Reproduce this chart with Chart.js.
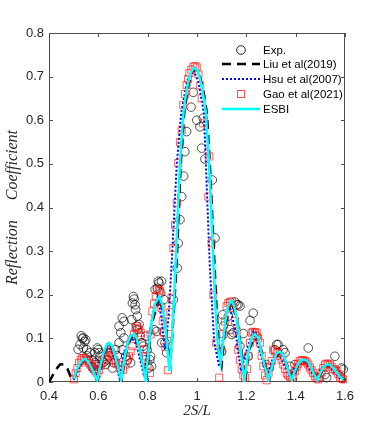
<!DOCTYPE html>
<html>
<head>
<meta charset="utf-8">
<script src="https://cdn.jsdelivr.net/npm/chart.js@4.4.0/dist/chart.umd.min.js"></script>
<style>
    body { margin: 0; background: #fff; }
    canvas { display: block; }
</style>
</head>
<body>
<canvas id="kayra" width="382" height="430"></canvas>
<script>
// tick labels
const xTicks = [0.4, 0.6, 0.8, 1.0, 1.2, 1.4, 1.6];
const yTicks = [0, 0.1, 0.2, 0.3, 0.4, 0.5, 0.6, 0.7, 0.8];

// Exp. (circles)
const expX = [0.518,0.526,0.531,0.535,0.539,0.539,0.545,0.549,0.553,0.555,
    0.56,0.566,0.573,0.575,0.582,0.586,0.586,0.589,0.596,0.6,
    0.6,0.603,0.607,0.615,0.622,0.63,0.636,0.643,0.65,0.657,
    0.663,0.67,0.677,0.684,0.684,0.691,0.697,0.697,0.704,0.704,
    0.711,0.718,0.731,0.735,0.738,0.742,0.745,0.749,0.751,0.755,
    0.758,0.758,0.765,0.769,0.775,0.782,0.789,0.792,0.798,0.805,
    0.809,0.812,0.816,0.826,0.83,0.837,0.839,0.843,0.846,0.853,
    0.856,0.857,0.863,0.866,0.87,0.877,0.904,0.92,0.924,0.931,
    0.938,0.946,0.951,0.958,0.976,0.985,0.999,1.012,1.025,1.019,
    1.032,1.062,1.073,1.104,1.107,1.1,1.127,1.134,1.141,1.147,
    1.154,1.161,1.167,1.174,1.174,1.188,1.208,1.215,1.228,1.242,
    1.282,1.316,1.323,1.329,1.349,1.357,1.377,1.397,1.451,1.519,
    1.526,1.559,1.586,1.593];
const expY = [0.075,0.086,0.106,0.1,0.101,0.078,0.093,0.097,0.074,0.06,
    0.05,0.067,0.051,0.035,0.029,0.067,0.044,0.04,0.078,0.074,
    0.036,0.067,0.059,0.05,0.045,0.04,0.051,0.06,0.067,0.032,
    0.044,0.074,0.06,0.09,0.128,0.113,0.147,0.074,0.139,0.101,
    0.059,0.05,0.044,0.143,0.181,0.196,0.19,0.177,0.166,0.128,
    0.151,0.12,0.132,0.105,0.09,0.082,0.051,0.105,0.074,0.032,
    0.051,0.059,0.036,0.12,0.212,0.116,0.215,0.231,0.227,0.204,
    0.231,0.09,0.116,0.189,0.09,0.067,0.189,0.261,0.318,0.372,
    0.425,0.472,0.528,0.574,0.63,0.664,0.6,0.585,0.605,0.536,
    0.511,0.463,0.33,0.154,0.128,0.07,0.151,0.12,0.109,0.113,
    0.183,0.177,0.177,0.174,0.082,0.111,0.059,0.141,0.158,0.105,
    0.04,0.074,0.086,0.086,0.074,0.067,0.036,0.04,0.078,0.017,
    0.01,0.059,0.032,0.029];

// Liu et al(2019), dashed
const liuX = [0.40,0.415,0.43,0.445,0.46,0.475,0.488,0.498,0.51,0.525,0.548,0.572,0.598,
    0.62,0.645,0.668,0.694,0.716,0.744,0.768,0.794,0.815,0.848,0.872,0.89,
    0.9,0.91,0.918,0.934,0.948,0.965,0.98,0.994,1.01,1.025,1.04,1.052,1.07,1.08,1.09,1.1,
    1.115,1.14,1.165,1.195,1.212,1.238,1.262,1.292,1.312,1.338,1.363,1.388,
    1.41,1.44,1.466,1.49,1.512,1.54,1.566,1.595];
const liuY = [0.0,0.015,0.03,0.04,0.041,0.03,0.012,0.003,0.025,0.042,0.053,0.033,0.004,
    0.063,0.09,0.062,0.004,0.083,0.11,0.073,0.004,0.13,0.196,0.13,0.035,
    0.11,0.2,0.28,0.5,0.617,0.68,0.71,0.718,0.705,0.67,0.617,0.5,0.28,0.16,0.07,0.04,
    0.13,0.186,0.135,0.005,0.075,0.11,0.07,0.004,0.048,0.07,0.042,0.004,
    0.04,0.051,0.03,0.004,0.032,0.04,0.022,0.005];

// Hsu et al(2007), dotted
const hsuX = [0.50,0.52,0.54,0.565,0.59,0.61,0.635,0.66,0.686,0.705,0.73,0.755,0.786,
    0.81,0.826,0.84,0.855,0.87,0.885,0.898,0.918,0.936,0.96,0.985,1.005,1.028,1.036,
    1.052,1.07,1.09,1.11,1.13,1.155,1.178,1.205,1.228,1.255,1.283,1.305,1.328,1.352,
    1.378,1.402,1.43,1.455,1.48,1.502,1.528,1.553,1.582];
const hsuY = [0.005,0.03,0.05,0.04,0.008,0.05,0.085,0.065,0.008,0.07,0.105,0.085,0.012,
    0.12,0.173,0.195,0.15,0.075,0.15,0.28,0.5,0.617,0.69,0.715,0.69,0.617,0.5,
    0.263,0.09,0.035,0.12,0.18,0.12,0.025,0.08,0.115,0.07,0.012,0.05,0.068,0.04,
    0.01,0.04,0.05,0.03,0.008,0.03,0.04,0.025,0.006];

// Gao et al(2021), squares
const gaoX = [0.501,0.508,0.515,0.522,0.529,0.535,0.542,0.549,0.555,0.562,
    0.568,0.575,0.582,0.589,0.596,0.603,0.61,0.617,0.624,0.63,
    0.637,0.643,0.65,0.657,0.665,0.672,0.68,0.69,0.70,0.71,
    0.717,0.724,0.731,0.738,0.745,0.751,0.758,0.765,0.772,0.778,
    0.785,0.792,0.80,0.809,0.812,0.819,0.826,0.833,0.839,0.846,
    0.85,0.856,0.861,0.866,0.872,0.882,0.887,0.892,0.897,0.904,
    0.911,0.918,0.924,0.931,0.938,0.944,0.951,0.958,0.964,0.969,
    0.977,0.985,0.993,0.999,1.006,1.013,1.019,1.025,1.046,1.05,
    1.059,1.066,1.078,1.09,1.10,1.107,1.113,1.12,1.127,1.134,
    1.141,1.147,1.154,1.161,1.167,1.174,1.181,1.188,1.195,1.202,
    1.208,1.215,1.222,1.228,1.235,1.242,1.248,1.255,1.262,1.269,
    1.276,1.282,1.29,1.296,1.303,1.309,1.316,1.323,1.33,1.336,
    1.343,1.35,1.357,1.364,1.37,1.377,1.384,1.39,1.397,1.404,
    1.41,1.417,1.424,1.431,1.438,1.444,1.451,1.458,1.464,1.471,
    1.478,1.485,1.492,1.499,1.505,1.512,1.519,1.526,1.532,1.539,
    1.546,1.552,1.559,1.566,1.573,1.58,1.586,1.592];
const gaoY = [0.006,0.02,0.032,0.044,0.051,0.055,0.055,0.052,0.048,0.044,
    0.04,0.035,0.03,0.025,0.02,0.028,0.038,0.046,0.052,0.059,
    0.066,0.074,0.07,0.062,0.051,0.044,0.04,0.03,0.028,0.04,
    0.05,0.059,0.07,0.082,0.11,0.124,0.128,0.12,0.113,0.09,
    0.075,0.059,0.04,0.021,0.109,0.162,0.18,0.196,0.212,0.21,
    0.208,0.17,0.14,0.113,0.08,0.027,0.11,0.16,0.193,0.307,
    0.36,0.41,0.502,0.55,0.578,0.635,0.66,0.681,0.695,0.708,
    0.716,0.723,0.724,0.721,0.705,0.68,0.65,0.593,0.425,0.517,
    0.318,0.2,0.09,0.01,0.07,0.11,0.139,0.174,0.181,0.183,
    0.185,0.17,0.14,0.116,0.074,0.05,0.029,0.015,0.01,0.03,
    0.06,0.09,0.113,0.115,0.114,0.113,0.1,0.09,0.06,0.036,
    0.015,0.004,0.02,0.035,0.048,0.074,0.07,0.066,0.068,0.06,
    0.051,0.04,0.03,0.02,0.015,0.012,0.01,0.015,0.025,0.035,
    0.042,0.048,0.05,0.05,0.048,0.045,0.04,0.033,0.027,0.021,
    0.013,0.008,0.006,0.012,0.022,0.032,0.04,0.042,0.042,0.04,
    0.035,0.03,0.028,0.025,0.018,0.01,0.008,0.006];

// ESBI, solid cyan
const esbiX = [0.499,0.51,0.522,0.535,0.546,0.558,0.57,0.583,0.596,
    0.607,0.62,0.632,0.643,0.655,0.667,0.68,0.692,
    0.703,0.716,0.73,0.742,0.755,0.768,0.78,0.792,
    0.803,0.815,0.83,0.847,0.86,0.872,0.88,0.888,
    0.895,0.905,0.914,0.923,0.931,0.94,0.945,0.95,0.96,0.97,0.98,0.99,
    1.0,1.01,1.02,1.03,1.036,1.04,1.049,1.057,1.066,1.075,1.085,1.096,
    1.105,1.115,1.125,1.138,1.15,1.163,1.175,1.185,1.192,
    1.2,1.21,1.222,1.235,1.248,1.26,1.275,1.29,
    1.3,1.31,1.322,1.336,1.35,1.362,1.373,1.385,
    1.395,1.408,1.422,1.438,1.452,1.465,1.477,1.488,
    1.498,1.51,1.525,1.539,1.552,1.565,1.58,1.593];
const esbiY = [0.007,0.025,0.04,0.05,0.053,0.047,0.035,0.018,0.004,
    0.035,0.065,0.083,0.09,0.083,0.063,0.033,0.004,
    0.045,0.085,0.105,0.11,0.1,0.072,0.04,0.004,
    0.07,0.135,0.18,0.196,0.175,0.125,0.075,0.025,
    0.07,0.17,0.28,0.40,0.50,0.58,0.617,0.64,0.675,0.70,0.715,0.72,
    0.715,0.70,0.675,0.64,0.617,0.58,0.5,0.4,0.28,0.17,0.08,0.044,
    0.09,0.14,0.172,0.187,0.175,0.14,0.085,0.035,0.005,
    0.035,0.075,0.103,0.11,0.1,0.07,0.035,0.004,
    0.025,0.048,0.065,0.07,0.062,0.042,0.02,0.004,
    0.022,0.04,0.05,0.051,0.045,0.03,0.015,0.004,
    0.018,0.032,0.04,0.04,0.032,0.022,0.012,0.006];

const AXIS_COLOR = '#4d4d4d';
const TEXT_COLOR = '#262626';

function pisteet( xs, ys )
{
    return xs.map( ( v, i ) => ({ x: v, y: ys[ i ] }) );
}

function lukuTeksti( value )
{
    return ( Math.round( value * 10 ) / 10 ).toString();
}

// box + inward ticks, matlab style
const kehysPlugin = {
    id: 'kehys',
    beforeDatasetsDraw( chart )
    {
        const { ctx, chartArea: a, scales } = chart;
        const tl = 4;
        ctx.save();
        ctx.strokeStyle = AXIS_COLOR;
        ctx.lineWidth = 1;
        ctx.beginPath();
        ctx.rect( a.left + 0.5, a.top + 0.5, a.right - a.left - 1, a.bottom - a.top - 1 );
        xTicks.forEach( v =>
        {
            const px = Math.round( scales.x.getPixelForValue( v ) ) + 0.5;
            ctx.moveTo( px, a.bottom );
            ctx.lineTo( px, a.bottom - tl );
            ctx.moveTo( px, a.top );
            ctx.lineTo( px, a.top + tl );
        } );
        yTicks.forEach( v =>
        {
            const py = Math.round( scales.y.getPixelForValue( v ) ) + 0.5;
            ctx.moveTo( a.left, py );
            ctx.lineTo( a.left + tl, py );
            ctx.moveTo( a.right, py );
            ctx.lineTo( a.right - tl, py );
        } );
        ctx.stroke();
        ctx.restore();
    }
};

// legend inside the axes, no box
const selitePlugin = {
    id: 'selite',
    afterDatasetsDraw( chart )
    {
        const { ctx, chartArea: a } = chart;
        const x0 = a.right - 123, x1 = a.right - 85, tx = a.right - 82;
        const rivit = [ 17, 31, 46, 61, 76 ];
        const mx = ( x0 + x1 ) / 2;
        ctx.save();
        ctx.font = '11.5px "Liberation Sans", Arial, sans-serif';
        ctx.fillStyle = '#000';
        ctx.textBaseline = 'middle';
        ctx.textAlign = 'left';
        const labels = chart.data.datasets.map( d => d.label );
        rivit.forEach( ( dy, i ) =>
        {
            const y = a.top + dy;
            const ds = chart.data.datasets[ i ];
            if ( ds.showLine )
            {
                ctx.strokeStyle = ds.borderColor;
                ctx.lineWidth = ds.borderWidth;
                ctx.setLineDash( ds.borderDash || [] );
                ctx.beginPath();
                ctx.moveTo( x0, y );
                ctx.lineTo( x1, y );
                ctx.stroke();
                ctx.setLineDash( [] );
            }
            else if ( ds.pointStyle === 'circle' )
            {
                ctx.strokeStyle = ds.borderColor;
                ctx.lineWidth = 1;
                ctx.beginPath();
                ctx.arc( mx, y, ds.pointRadius, 0, Math.PI * 2 );
                ctx.stroke();
            }
            else
            {
                const s = ds.pointRadius * Math.SQRT1_2;
                ctx.strokeStyle = ds.borderColor;
                ctx.lineWidth = 1;
                ctx.strokeRect( mx - s, y - s, 2 * s, 2 * s );
            }
            ctx.fillText( labels[ i ], tx, y + 1 );
        } );
        ctx.restore();
    }
};

const config = {
    type: 'scatter',
    data: {
        datasets: [
            {
                label: 'Exp.',
                data: pisteet( expX, expY ),
                showLine: false,
                pointStyle: 'circle',
                pointRadius: 4.3,
                borderColor: 'rgba(0,0,0,0.85)',
                backgroundColor: 'rgba(0,0,0,0)',
                borderWidth: 0.8,
                clip: false,
                order: 4
            },
            {
                label: 'Liu et al(2019)',
                data: pisteet( liuX, liuY ),
                showLine: true,
                pointRadius: 0,
                borderColor: '#000',
                borderWidth: 2.5,
                borderDash: [ 9, 6 ],
                tension: 0,
                order: 3
            },
            {
                label: 'Hsu et al(2007)',
                data: pisteet( hsuX, hsuY ),
                showLine: true,
                pointRadius: 0,
                borderColor: '#0000ff',
                borderWidth: 2,
                borderDash: [ 2, 2 ],
                tension: 0,
                order: 2
            },
            {
                label: 'Gao et al(2021)',
                data: pisteet( gaoX, gaoY ),
                showLine: false,
                pointStyle: 'rect',
                pointRadius: 5,
                borderColor: 'rgba(255,0,0,0.7)',
                backgroundColor: 'rgba(0,0,0,0)',
                borderWidth: 0.9,
                clip: false,
                order: 1
            },
            {
                label: 'ESBI',
                data: pisteet( esbiX, esbiY ),
                showLine: true,
                pointRadius: 0,
                borderColor: '#00ffff',
                borderWidth: 2.5,
                tension: 0,
                order: 0
            }
        ]
    },
    options: {
        responsive: false,
        animation: false,
        devicePixelRatio: 1,
        layout: {
            padding: { top: 33, right: 37, left: 0, bottom: 0 }
        },
        plugins: {
            legend: { display: false },
            tooltip: { enabled: false },
            title: { display: false }
        },
        scales: {
            x: {
                type: 'linear',
                min: 0.4,
                max: 1.6,
                afterBuildTicks: s => { s.ticks = xTicks.map( v => ({ value: v }) ); },
                afterFit: s => { s.height = 48; },
                grid: { display: false, drawTicks: false },
                border: { display: false },
                ticks: {
                    color: TEXT_COLOR,
                    padding: 7,
                    maxRotation: 0,
                    font: { family: '"Liberation Sans", Arial, sans-serif', size: 13 },
                    callback: lukuTeksti
                },
                title: {
                    display: true,
                    text: '2S/L',
                    color: TEXT_COLOR,
                    padding: { top: 0, bottom: 10 },
                    font: { family: '"Liberation Serif", serif', size: 15, style: 'italic' }
                }
            },
            y: {
                type: 'linear',
                min: 0,
                max: 0.8,
                afterBuildTicks: s => { s.ticks = yTicks.map( v => ({ value: v }) ); },
                afterFit: s => { s.width = 49; },
                grid: { display: false, drawTicks: false },
                border: { display: false },
                ticks: {
                    color: TEXT_COLOR,
                    padding: 5,
                    font: { family: '"Liberation Sans", Arial, sans-serif', size: 13 },
                    callback: lukuTeksti
                },
                title: {
                    display: true,
                    text: 'Reflection     Coefficient',
                    color: TEXT_COLOR,
                    padding: { top: 3, bottom: 0 },
                    font: { family: '"Liberation Serif", serif', size: 16, style: 'italic' }
                }
            }
        }
    },
    plugins: [ kehysPlugin, selitePlugin ]
};

new Chart( document.getElementById( 'kayra' ).getContext( '2d' ), config );
</script>
</body>
</html>
